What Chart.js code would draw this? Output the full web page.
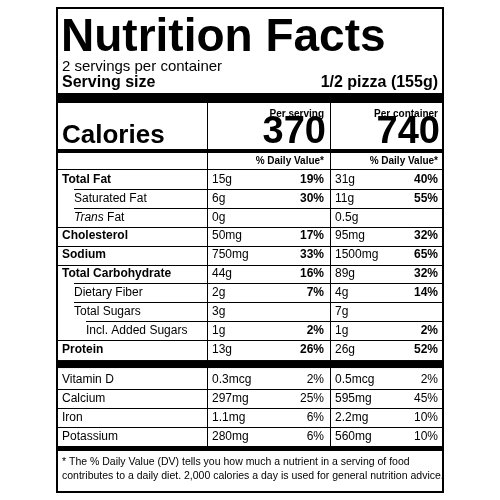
<!DOCTYPE html>
<html><head><meta charset="utf-8">
<script src="https://cdn.jsdelivr.net/npm/chart.js@4/dist/chart.umd.min.js"></script>
<style>html,body{margin:0;background:#fff}#c{display:block}</style>
</head><body>
<div style="width:500px;height:500px"><canvas id="c"></canvas></div>
<script>
const nutrients = ['Total Fat','Saturated Fat','Trans Fat','Cholesterol','Sodium','Total Carbohydrate','Dietary Fiber','Total Sugars','Incl. Added Sugars','Protein','Vitamin D','Calcium','Iron','Potassium']
const indentLevel = [0,1,1,0,0,0,1,1,2,0,0,0,0,0]
const servingAmt = ['15g','6g','0g','50mg','750mg','44g','2g','3g','1g','13g','0.3mcg','297mg','1.1mg','280mg']
const servingDV = [19,30,null,17,33,16,7,null,2,26,2,25,6,6]
const containerAmt = ['31g','11g','0.5g','95mg','1500mg','89g','4g','7g','1g','26g','0.5mcg','595mg','2.2mg','560mg']
const containerDV = [40,55,null,32,65,32,14,null,2,52,2,45,10,10]
const calories = [370, 740]

// vitamins/minerals sit below the thick protein bar
const rowPos = nutrients.map((n, i) => i + (i >= 10 ? 0.6 : 0))

const F = 'Liberation Sans, Arial, sans-serif'
const L = 57, R = 443, D1 = 207, D2 = 330

const labelPlugin = {
    id: 'label',
    afterDraw(chart) {
        const ctx = chart.ctx
        const y = chart.scales.y
        const step = y.getPixelForValue(1) - y.getPixelForValue(0)
        const rect = (x, yy, w, h) => { ctx.fillStyle = '#000'; ctx.fillRect(x, yy, w, h) }
        const text = (t, x, yy, font, align) => {
            ctx.font = font; ctx.textAlign = align || 'left'; ctx.fillStyle = '#000'; ctx.fillText(t, x, yy)
        }
        ctx.save()
        ctx.textBaseline = 'middle'
        ctx.strokeStyle = '#000'; ctx.lineWidth = 2
        ctx.strokeRect(L, 8, R - L, 484)
        text('Nutrition Facts', 61, 38, `bold 46px ${F}`)
        text('2 servings per container', 62, 67, `15px ${F}`)
        text('Serving size', 62, 83, `bold 16px ${F}`)
        text('1/2 pizza (155g)', 438, 83, `bold 16px ${F}`, 'right')
        rect(L, 93, R - L, 10)
        text('Per serving', 324, 114, `bold 10px ${F}`, 'right')
        text('Per container', 438, 114, `bold 10px ${F}`, 'right')
        text('Calories', 62, 136, `bold 26px ${F}`)
        text(String(calories[0]), 326, 133, `bold 38px ${F}`, 'right')
        text(String(calories[1]), 440, 133, `bold 38px ${F}`, 'right')
        rect(L, 149, R - L, 4)
        text('% Daily Value*', 324, 161, `bold 10px ${F}`, 'right')
        text('% Daily Value*', 438, 161, `bold 10px ${F}`, 'right')
        ctx.lineWidth = 1
        ctx.beginPath(); ctx.moveTo(L, 169.5); ctx.lineTo(R, 169.5); ctx.stroke()

        nutrients.forEach((n, i) => {
            const py = y.getPixelForValue(rowPos[i])
            const bold = indentLevel[i] === 0 && i < 10
            const nx = 62 + indentLevel[i] * 12
            if (n === 'Trans Fat') {
                text('Trans', nx, py, `italic 12px ${F}`)
                ctx.font = `italic 12px ${F}`
                const w = ctx.measureText('Trans ').width
                text('Fat', nx + w, py, `12px ${F}`)
            } else {
                text(n, nx, py, `${bold ? 'bold ' : ''}12px ${F}`)
            }
            text(servingAmt[i], 212, py, `12px ${F}`)
            text(containerAmt[i], 335, py, `12px ${F}`)
            const dvFont = `${i < 10 ? 'bold ' : ''}12px ${F}`
            if (servingDV[i] != null) text(servingDV[i] + '%', 324, py, dvFont, 'right')
            if (containerDV[i] != null) text(containerDV[i] + '%', 438, py, dvFont, 'right')
            if (i === 9) {
                rect(L, py + step / 2 + 1, R - L, 8)
            } else if (i < nutrients.length - 1) {
                const ly = Math.round(py + step / 2) + 0.5
                const sx = indentLevel[i + 1] ? 62 + indentLevel[i + 1] * 12 : L
                ctx.beginPath(); ctx.moveTo(sx, ly); ctx.lineTo(R, ly); ctx.stroke()
            }
        })
        const bottom = chart.chartArea.bottom
        ctx.beginPath()
        ctx.moveTo(D1 + 0.5, 103); ctx.lineTo(D1 + 0.5, bottom)
        ctx.moveTo(D2 + 0.5, 103); ctx.lineTo(D2 + 0.5, bottom)
        ctx.stroke()
        rect(L, bottom, R - L, 5)
        text('* The % Daily Value (DV) tells you how much a nutrient in a serving of food', 62, 462, `10.5px ${F}`)
        text('contributes to a daily diet. 2,000 calories a day is used for general nutrition advice.', 62, 476, `10.5px ${F}`)
        ctx.restore()
    }
}

new Chart(document.getElementById('c'), {
    type: 'bar',
    data: {
        datasets: [{
            data: nutrients.map((n, i) => ({ x: servingDV[i] || 0, y: rowPos[i] })),
            backgroundColor: 'rgba(0,0,0,0)',
        }],
    },
    options: {
        indexAxis: 'y',
        animation: false,
        responsive: true,
        maintainAspectRatio: false,
        layout: { padding: { top: 170, bottom: 54, left: 57, right: 57 } },
        scales: {
            x: { type: 'linear', display: false, min: 0, max: 100 },
            y: { type: 'linear', display: false, reverse: true, offset: false, min: -0.5, max: 14.1 },
        },
        plugins: { legend: { display: false }, tooltip: { enabled: false } },
    },
    plugins: [labelPlugin],
})
</script>
</body></html>
